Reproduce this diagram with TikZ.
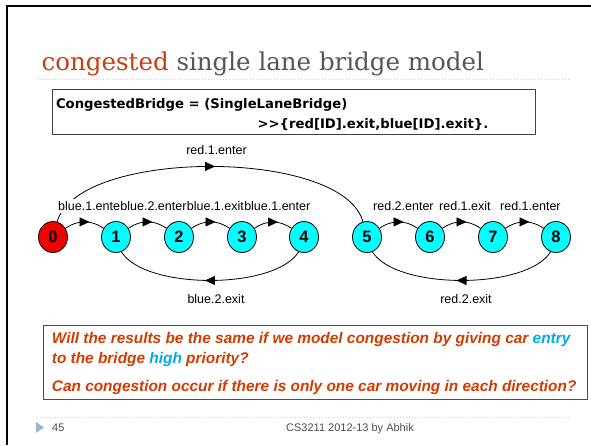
\documentclass[tikz,border=0pt]{standalone}
\usepackage{fontspec}
\setmainfont{Liberation Sans}
\newfontfamily\titlefont{DejaVu Serif}
\newfontfamily\codefont{DejaVu Sans}
\usetikzlibrary{arrows.meta,decorations.markings,shapes.geometric}

\definecolor{titlered}{RGB}{204,60,20}
\definecolor{titlegray}{RGB}{85,85,95}
\definecolor{qred}{RGB}{210,60,0}
\definecolor{qblue}{RGB}{0,170,235}
\definecolor{rulegray}{RGB}{195,210,228}
\definecolor{markblue}{RGB}{155,180,208}
\definecolor{footgray}{RGB}{80,80,80}
\definecolor{statecyan}{RGB}{0,255,255}
\definecolor{statered}{RGB}{240,0,0}

\tikzset{
  state/.style={ellipse, draw=black, line width=0.8, fill=statecyan,
    minimum width=29, minimum height=31, inner sep=0,
    font=\fontsize{16.5}{16.5}\selectfont\bfseries},
  trans/.style={line width=0.8, postaction=decorate,
    decoration={markings, mark=at position 0.5 with
      {\arrow[xshift=5pt]{Triangle[length=10pt,width=9pt]}}}},
  lbl/.style={font=\fontsize{12.5}{12.5}\selectfont, inner xsep=0,
    inner ysep=2.5, fill=white},
  code/.style={font={\codefont\bfseries\fontsize{13.2}{14}\selectfont},
    inner sep=0, anchor=base west},
  qtext/.style={font=\bfseries\itshape\fontsize{15.4}{15.4}\selectfont,
    text=qred, anchor=base west, inner sep=0},
  rule/.style={rulegray, line width=1, dash pattern=on 1.5pt off 1.5pt},
}

\begin{document}
\begin{tikzpicture}[x=1pt,y=-1pt]
  % page
  \fill[white] (0,0) rectangle (591,445);
  \useasboundingbox (0,0) rectangle (591,445);
  \draw[black, line width=2] (7,445) -- (7,6) -- (591,6);

  % title and rule
  \node[anchor=base west, inner sep=0] (title) at (41.5,70)
    {\titlefont\fontsize{24.5}{24.5}\selectfont\textcolor{titlered}{congested} \textcolor{titlegray}{single lane bridge model}};
  \draw[rule] (36.6,79) -- (569,79);

  % FSP definition
  \node[draw=black!75, line width=1, anchor=north west, minimum width=483,
        minimum height=45, inner sep=0] (codebox) at (51.6,89) {};
  \node[code] (code1) at (55.8,108) {CongestedBridge = (SingleLaneBridge)};
  \node[code] (code2) at (257.4,128) {>{}>\{red[ID].exit,blue[ID].exit\}.};

  % states
  \node[state, fill=statered] (n0) at (53,237) {0};
  \node[state] (n1) at (116,237) {1};
  \node[state] (n2) at (179,237) {2};
  \node[state] (n3) at (242,237) {3};
  \node[state] (n4) at (304,237) {4};
  \node[state] (n5) at (367,237) {5};
  \node[state] (n6) at (430,237) {6};
  \node[state] (n7) at (493,237) {7};
  \node[state] (n8) at (556,237) {8};

  % transitions
  \draw[trans] (n0.75) .. controls (78,148) and (343,148) .. (n5.105);
  \draw[trans] (n0) to[bend left=35] (n1);
  \draw[trans] (n1) to[bend left=35] (n2);
  \draw[trans] (n2) to[bend left=35] (n3);
  \draw[trans] (n3) to[bend left=35] (n4);
  \draw[trans] (n5) to[bend left=35] (n6);
  \draw[trans] (n6) to[bend left=35] (n7);
  \draw[trans] (n7) to[bend left=35] (n8);
  \draw[trans] (n4.-110) .. controls (275,290) and (145,290) .. (n1.-70);
  \draw[trans] (n8.-110) .. controls (527,290) and (396,290) .. (n5.-70);

  % transition labels
  \node[lbl, anchor=base] (l05) at (216.5,154) {red.1.enter};
  \node[lbl, anchor=base west] (l01) at (58,210.5) {blue.1.ente};
  \node[lbl, anchor=base west] (l12) at (l01.base east) {blue.2.enter};
  \node[lbl, anchor=base west] (l23) at (l12.base east) {blue.1.exit};
  \node[lbl, anchor=base west] (l34) at (l23.base east) {blue.1.enter};
  \node[lbl, anchor=base west] (l56) at (373,210.5) {red.2.enter};
  \node[lbl, anchor=base west] (l67) at (439,210.5) {red.1.exit};
  \node[lbl, anchor=base west] (l78) at (500,210.5) {red.1.enter};
  \node[lbl, anchor=base] (l41) at (216,303) {blue.2.exit};
  \node[lbl, anchor=base] (l85) at (466,303) {red.2.exit};

  % questions
  \node[draw=black!70, line width=1.2, anchor=north west, minimum width=544.3,
        minimum height=74, inner sep=0] (qbox) at (42.7,325) {};
  \node[qtext] (q1) at (51.7,343.5) {Will the results be the same if we model congestion by giving car \textcolor{qblue}{entry}};
  \node[qtext] (q2) at (51.7,363.5) {to the bridge \textcolor{qblue}{high} priority?};
  \node[qtext] (q3) at (51.7,391.5) {Can congestion occur if there is only one car moving in each direction?};

  % footer
  \draw[rule] (36.6,417) -- (568,417);
  \fill[markblue] (36,422) -- (44,427.5) -- (36,433) -- cycle;
  \node[anchor=base west, inner sep=0, text=footgray, font=\fontsize{11}{11}\selectfont] (pageno) at (52,431) {45};
  \node[anchor=base, inner sep=0, text=footgray, font=\fontsize{11}{11}\selectfont] (footer) at (350,431) {CS3211 2012-13 by Abhik};
\end{tikzpicture}
\end{document}
